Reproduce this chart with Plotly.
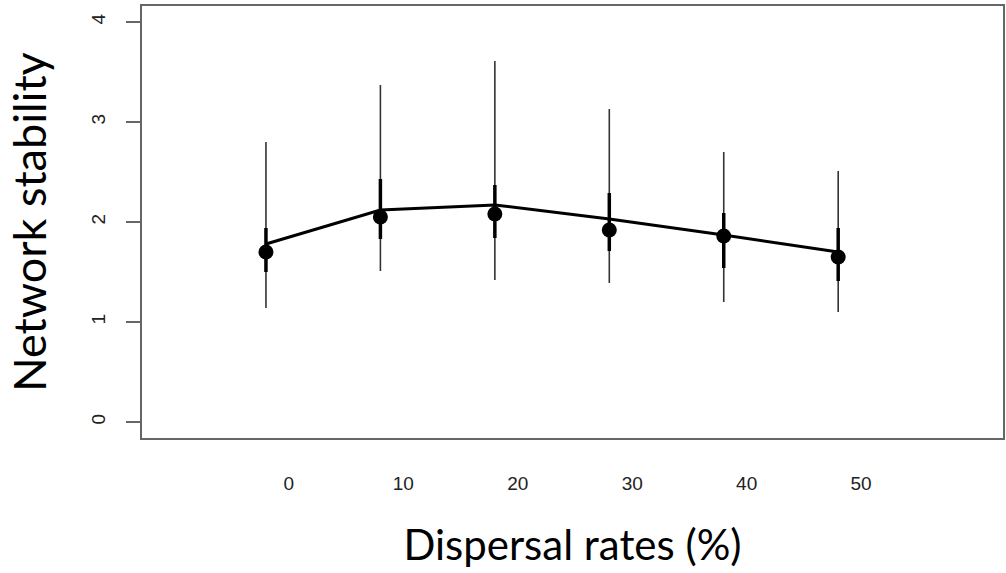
import plotly.graph_objects as go

dispersal = [0, 10, 20, 30, 40, 50]
tick_labels = ["0", "10", "20", "30", "40", "50"]
label_offset = 2  # tick labels sit slightly to the right of the points

mean_stability = [1.70, 2.05, 2.08, 1.92, 1.86, 1.65]
range_upper = [2.80, 3.37, 3.61, 3.13, 2.70, 2.51]
range_lower = [1.14, 1.51, 1.42, 1.39, 1.20, 1.10]
iqr_upper = [1.94, 2.43, 2.37, 2.29, 2.09, 1.94]
iqr_lower = [1.50, 1.83, 1.84, 1.71, 1.54, 1.41]
fit_values = [1.78, 2.12, 2.17, 2.03, 1.87, 1.70]

y_ticks = [0, 1, 2, 3, 4]

fig = go.Figure()

# thin whiskers (full range)
fig.add_trace(go.Scatter(
    x=dispersal, y=mean_stability, mode="markers",
    marker=dict(size=1, color="rgba(0,0,0,0)"),
    error_y=dict(type="data", symmetric=False,
                 array=[u - m for u, m in zip(range_upper, mean_stability)],
                 arrayminus=[m - l for m, l in zip(mean_stability, range_lower)],
                 color="#333333", thickness=1.6, width=0),
    showlegend=False, hoverinfo="skip"))

# thick bars (inner range)
fig.add_trace(go.Scatter(
    x=dispersal, y=mean_stability, mode="markers",
    marker=dict(size=1, color="rgba(0,0,0,0)"),
    error_y=dict(type="data", symmetric=False,
                 array=[u - m for u, m in zip(iqr_upper, mean_stability)],
                 arrayminus=[m - l for m, l in zip(mean_stability, iqr_lower)],
                 color="#000000", thickness=3.5, width=0),
    showlegend=False, hoverinfo="skip"))

# fitted line
fig.add_trace(go.Scatter(
    x=dispersal, y=fit_values, mode="lines",
    line=dict(color="#000000", width=3),
    showlegend=False))

# mean points
fig.add_trace(go.Scatter(
    x=dispersal, y=mean_stability, mode="markers",
    marker=dict(size=15, color="#000000"),
    showlegend=False))

axis_color = "#666666"

fig.update_layout(
    width=1006, height=573,
    margin=dict(l=142, r=3, t=6, b=135),
    paper_bgcolor="white", plot_bgcolor="white",
    font=dict(family="Liberation Sans, Arial, sans-serif", color="#222222"),
    xaxis=dict(
        range=[-10.83, 64.4],
        tickvals=[d + label_offset for d in dispersal],
        ticktext=tick_labels,
        ticks="", showgrid=False, zeroline=False,
        showline=True, mirror=True, linecolor=axis_color, linewidth=2,
        tickfont=dict(size=19, color="#222222"),
        ticklabelstandoff=27,
        automargin=False,
        title=dict(text="Dispersal rates (%)",
                   font=dict(family="Lato, Open Sans, sans-serif", size=42, color="#000000"),
                   standoff=38),
    ),
    yaxis=dict(
        range=[-0.16, 4.16],
        tickvals=y_ticks,
        ticks="outside", ticklen=14, tickwidth=1.5, tickcolor=axis_color,
        tickangle=-90,
        showgrid=False, zeroline=False,
        showline=True, mirror=True, linecolor=axis_color, linewidth=2,
        tickfont=dict(size=19, color="#222222"),
        ticklabelstandoff=13,
        automargin=False,
        title=dict(text="Network stability",
                   font=dict(family="Lato, Open Sans, sans-serif", size=45, color="#000000"),
                   standoff=28),
    ),
)

fig.write_html("out.html", config={"displayModeBar": False},
               post_script="document.body.style.margin='0';")
